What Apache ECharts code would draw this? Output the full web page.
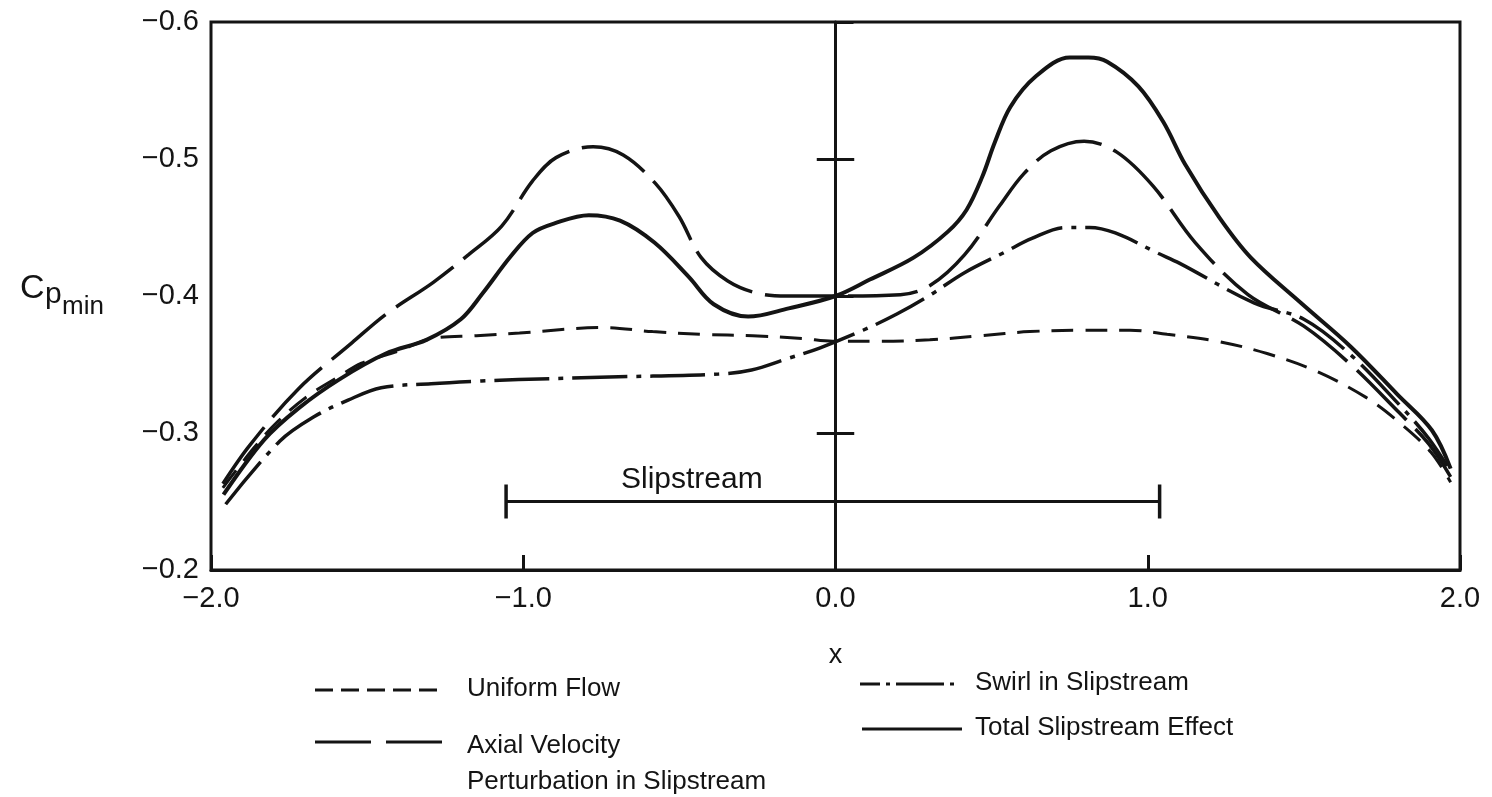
<!DOCTYPE html>
<html><head><meta charset="utf-8">
<script src="https://cdn.jsdelivr.net/npm/echarts@6/dist/echarts.min.js"></script>
<style>html,body{margin:0;padding:0;background:#fff}#c{width:1492px;height:797px}</style>
</head><body><div id="c"></div>
<script>
// ---- data (x = chordwise station, y = Cp_min) ----
const uniformX = [-1.962,-1.863,-1.788,-1.690,-1.592,-1.518,-1.398,-1.292,-1.150,-1.012,-0.746,-0.586,-0.425,-0.265,-0.105,-0.009,0.142,0.302,0.462,0.622,0.782,0.943,1.062,1.222,1.382,1.541,1.699,1.804,1.907,1.970];
const uniformY = [-0.260,-0.289,-0.308,-0.327,-0.341,-0.351,-0.360,-0.369,-0.371,-0.373,-0.377,-0.374,-0.372,-0.371,-0.369,-0.367,-0.367,-0.368,-0.371,-0.374,-0.375,-0.375,-0.372,-0.367,-0.358,-0.345,-0.326,-0.308,-0.286,-0.264];

const axialX = [-1.962,-1.876,-1.721,-1.548,-1.438,-1.288,-1.176,-1.069,-0.970,-0.895,-0.776,-0.680,-0.576,-0.501,-0.430,-0.345,-0.250,-0.154,-0.016,0.208,0.305,0.413,0.526,0.602,0.690,0.796,0.901,1.018,1.152,1.321,1.500,1.650,1.800,1.900,1.970];
const axialY = [-0.263,-0.291,-0.332,-0.366,-0.387,-0.410,-0.430,-0.451,-0.484,-0.501,-0.509,-0.503,-0.482,-0.458,-0.428,-0.411,-0.402,-0.400,-0.400,-0.401,-0.408,-0.430,-0.466,-0.489,-0.506,-0.513,-0.505,-0.480,-0.439,-0.401,-0.378,-0.350,-0.316,-0.292,-0.268];

const swirlX = [-1.953,-1.780,-1.669,-1.561,-1.455,-1.295,-1.134,-1.015,-0.695,-0.374,-0.269,-0.158,-0.051,0.088,0.198,0.305,0.413,0.542,0.629,0.736,0.813,0.896,1.035,1.101,1.340,1.500,1.650,1.800,1.900,1.970];
const swirlY = [-0.248,-0.294,-0.312,-0.324,-0.333,-0.336,-0.338,-0.339,-0.341,-0.343,-0.346,-0.354,-0.362,-0.375,-0.387,-0.401,-0.417,-0.432,-0.442,-0.450,-0.450,-0.446,-0.431,-0.424,-0.395,-0.383,-0.357,-0.322,-0.296,-0.272];

const totalX = [-1.960,-1.830,-1.720,-1.590,-1.440,-1.310,-1.200,-1.130,-1.040,-0.970,-0.900,-0.790,-0.690,-0.580,-0.470,-0.390,-0.280,-0.150,0.000,0.110,0.250,0.360,0.420,0.470,0.510,0.560,0.640,0.750,0.810,0.870,0.970,1.050,1.120,1.230,1.330,1.490,1.650,1.800,1.910,1.970];
const totalY = [-0.255,-0.295,-0.318,-0.339,-0.358,-0.368,-0.383,-0.402,-0.429,-0.446,-0.453,-0.459,-0.455,-0.439,-0.414,-0.394,-0.385,-0.391,-0.400,-0.412,-0.428,-0.447,-0.463,-0.487,-0.512,-0.538,-0.560,-0.574,-0.574,-0.571,-0.553,-0.527,-0.496,-0.457,-0.428,-0.395,-0.363,-0.328,-0.302,-0.274];

const seriesNames = ['Uniform Flow', 'Axial Velocity\nPerturbation in Slipstream', 'Swirl in Slipstream', 'Total Slipstream Effect'];

// slipstream extent marker
const slipStart = -1.055, slipEnd = 1.038, slipLevel = -0.250;
const slipLabel = 'Slipstream', slipLabelX = -0.46, slipLabelY = -0.266;

// centre-line tick marks
const centreTicks = [-0.5, -0.3];

// axes
const xMin = -2, xMax = 2, xStep = 1;
const yMin = -0.6, yMax = -0.2, yStep = 0.1;

// ---- chart ----
const FONT = '"Liberation Sans", Arial, Helvetica, sans-serif';
const INK = '#141414';
const pairs = (xs, ys) => xs.map((x, i) => [x, ys[i]]);
const fmt = v => (v < -1e-9 ? '\u2212' : '') + Math.abs(v).toFixed(1);

const chart = echarts.init(document.getElementById('c'));

const curve = (name, xs, ys, width, type) => ({
  name, type: 'line', data: pairs(xs, ys), smooth: 0.35, showSymbol: false, silent: true,
  lineStyle: { color: INK, width, type, cap: 'butt' }, z: 3
});

chart.setOption({
  animation: false,
  backgroundColor: '#ffffff',
  grid: { left: 211, right: 32, top: 22, bottom: 227, show: true, borderColor: INK, borderWidth: 3 },
  xAxis: {
    type: 'value', min: xMin, max: xMax, interval: xStep,
    axisLine: { show: true, lineStyle: { color: INK, width: 3 } },
    axisTick: { show: true, inside: true, length: 15, lineStyle: { color: INK, width: 3 } },
    splitLine: { show: false },
    axisLabel: { formatter: fmt, fontSize: 29, color: INK, margin: 14, fontFamily: FONT },
    name: 'x', nameLocation: 'middle', nameGap: 72,
    nameTextStyle: { fontSize: 27, color: INK, fontFamily: FONT }
  },
  yAxis: {
    type: 'value', min: yMin, max: yMax, interval: yStep, inverse: true,
    axisLine: { show: true, lineStyle: { color: INK, width: 3 } },
    axisTick: { show: true, inside: true, length: 18, lineStyle: { color: INK, width: 3 } },
    splitLine: { show: false },
    axisLabel: { formatter: fmt, fontSize: 29, color: INK, margin: 12, fontFamily: FONT }
  },
  series: [
    curve(seriesNames[0], uniformX, uniformY, 3, [22, 12]),
    curve(seriesNames[1], axialX, axialY, 3.5, [70, 13]),
    curve(seriesNames[2], swirlX, swirlY, 3.5, [55, 9, 5, 9]),
    curve(seriesNames[3], totalX, totalY, 4, 'solid'),
    {
      name: 'slipstream', type: 'line', silent: true,
      data: [[slipStart, slipLevel], [slipEnd, slipLevel]],
      symbol: 'rect', symbolSize: [3.5, 34], showSymbol: true,
      itemStyle: { color: INK }, lineStyle: { color: INK, width: 3 },
      markPoint: {
        symbol: 'rect', symbolSize: 1, itemStyle: { color: 'rgba(0,0,0,0)' },
        label: { show: true, position: 'inside', formatter: slipLabel, fontSize: 30, color: INK, fontFamily: FONT },
        data: [{ coord: [slipLabelX, slipLabelY] }]
      },
      markLine: {
        silent: true, symbol: ['none', 'none'], label: { show: false },
        lineStyle: { color: INK, width: 3, type: 'solid' },
        data: [{ xAxis: 0 }].concat(centreTicks.map(v => [{ coord: [-0.06, v] }, { coord: [0.06, v] }]))
      }
    }
  ],
  graphic: [
    // y-axis title  C_p_min
    { type: 'text', left: 20, top: 272, style: { text: 'C', fontSize: 34, fill: INK, fontFamily: FONT } },
    { type: 'text', left: 45, top: 280, style: { text: 'p', fontSize: 30, fill: INK, fontFamily: FONT } },
    { type: 'text', left: 62, top: 294, style: { text: 'min', fontSize: 26, fill: INK, fontFamily: FONT } },
    // legend
    { type: 'line', shape: { x1: 315, y1: 690, x2: 442, y2: 690 }, style: { stroke: INK, lineWidth: 3, lineDash: [18, 8] } },
    { type: 'text', left: 467, top: 676, style: { text: seriesNames[0], fontSize: 26, fill: INK, fontFamily: FONT } },
    { type: 'line', shape: { x1: 315, y1: 742, x2: 442, y2: 742 }, style: { stroke: INK, lineWidth: 3, lineDash: [56, 15] } },
    { type: 'text', left: 467, top: 728, style: { text: seriesNames[1], fontSize: 26, lineHeight: 36, fill: INK, fontFamily: FONT } },
    { type: 'line', shape: { x1: 860, y1: 684, x2: 960, y2: 684 }, style: { stroke: INK, lineWidth: 3, lineDash: [20, 6, 4, 6, 48, 6, 4, 40] } },
    { type: 'text', left: 975, top: 670, style: { text: seriesNames[2], fontSize: 26, fill: INK, fontFamily: FONT } },
    { type: 'line', shape: { x1: 862, y1: 729, x2: 962, y2: 729 }, style: { stroke: INK, lineWidth: 3 } },
    { type: 'text', left: 975, top: 715, style: { text: seriesNames[3], fontSize: 26, fill: INK, fontFamily: FONT } }
  ]
});
</script>
</body></html>
